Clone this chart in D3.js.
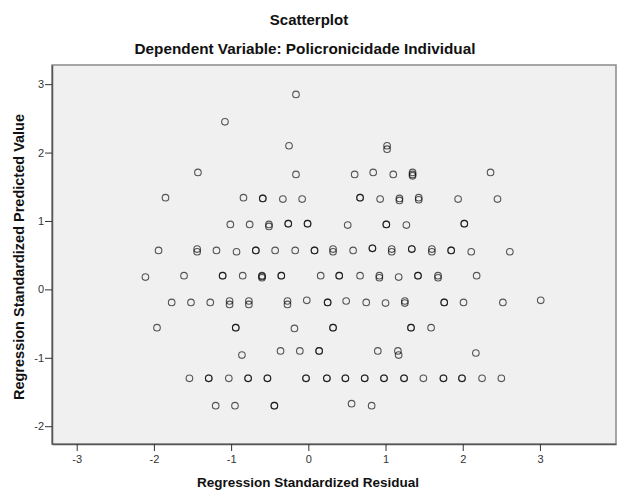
<!DOCTYPE html>
<html>
<head>
<meta charset="utf-8">
<script src="https://cdn.jsdelivr.net/npm/d3@7"></script>
<style>
    body { margin: 0; background: #fff; }
    text { font-family: "Liberation Sans", Arial, sans-serif; }
    .tick text { fill: #333; font-size: 11px; }
</style>
</head>
<body>
<div id="chart"></div>
<script>
// residuals (x) and standardized predicted values (y)
const residual = [
    -0.16, -1.08,
    -0.25, 1.02, 1.02,
    -1.43, -0.16, 0.60, 0.84, 1.10, 1.35, 1.35, 1.35, 2.36,
    -1.85, -0.84, -0.59, -0.59, -0.33, -0.08, 0.67, 0.67, 0.93, 1.18, 1.18, 1.43, 1.43, 1.94, 2.45,
    -1.01, -0.76, -0.51, -0.51, -0.26, -0.26, -0.01, -0.01, 0.51, 1.01, 1.01, 1.27, 2.02, 2.02,
    -1.94, -1.44, -1.44, -1.19, -0.93, -0.68, -0.68, -0.43, -0.17, 0.08, 0.08, 0.32, 0.32, 0.58,
    0.83, 0.83, 1.08, 1.08, 1.34, 1.34, 1.60, 1.60, 1.85, 1.85, 2.11, 2.61,
    -2.11, -1.61, -1.11, -1.11, -0.85, -0.60, -0.60, -0.60, -0.35, -0.35, 0.16, 0.40, 0.40, 0.67,
    0.92, 0.92, 1.17, 1.42, 1.42, 1.68, 1.68, 2.18,
    -1.77, -1.52, -1.27, -1.02, -1.02, -0.77, -0.77, -0.27, -0.27, -0.02, 0.25, 0.25, 0.49, 0.75,
    1.00, 1.25, 1.25, 1.76, 1.76, 2.01, 2.52, 3.01,
    -1.96, -0.94, -0.94, -0.18, 0.32, 0.32, 1.33, 1.33, 1.59,
    -0.86, -0.36, -0.11, 0.14, 0.14, 0.90, 1.16, 1.17, 2.17,
    -1.54, -1.29, -1.29, -1.03, -0.78, -0.78, -0.53, -0.53, -0.03, -0.03, 0.24, 0.24, 0.48, 0.48,
    0.73, 0.73, 0.98, 0.98, 1.24, 1.24, 1.49, 1.75, 1.75, 1.99, 1.99, 2.25, 2.50,
    -1.20, -0.95, -0.44, -0.44, 0.56, 0.82
];
const predicted = [
    2.85, 2.45,
    2.10, 2.10, 2.05,
    1.71, 1.68, 1.68, 1.71, 1.68, 1.71, 1.68, 1.66, 1.71,
    1.34, 1.34, 1.33, 1.33, 1.32, 1.32, 1.34, 1.34, 1.32, 1.33, 1.30, 1.34, 1.31, 1.32, 1.32,
    0.95, 0.95, 0.95, 0.92, 0.96, 0.96, 0.96, 0.96, 0.94, 0.95, 0.95, 0.94, 0.96, 0.96,
    0.57, 0.59, 0.55, 0.57, 0.55, 0.57, 0.57, 0.57, 0.57, 0.57, 0.57, 0.59, 0.55, 0.57,
    0.60, 0.60, 0.59, 0.55, 0.59, 0.59, 0.59, 0.55, 0.57, 0.57, 0.55, 0.55,
    0.18, 0.20, 0.20, 0.20, 0.20, 0.20, 0.17, 0.19, 0.20, 0.20, 0.20, 0.20, 0.20, 0.20,
    0.20, 0.17, 0.18, 0.20, 0.20, 0.20, 0.17, 0.20,
    -0.19, -0.19, -0.19, -0.17, -0.22, -0.17, -0.22, -0.17, -0.22, -0.16, -0.19, -0.19, -0.17, -0.19,
    -0.20, -0.17, -0.20, -0.19, -0.19, -0.19, -0.19, -0.16,
    -0.56, -0.56, -0.56, -0.57, -0.56, -0.56, -0.56, -0.56, -0.56,
    -0.96, -0.90, -0.90, -0.90, -0.90, -0.90, -0.90, -0.96, -0.93,
    -1.30, -1.30, -1.30, -1.30, -1.30, -1.30, -1.30, -1.30, -1.30, -1.30, -1.30, -1.30, -1.30, -1.30,
    -1.30, -1.30, -1.30, -1.30, -1.30, -1.30, -1.30, -1.30, -1.30, -1.30, -1.30, -1.30, -1.30,
    -1.70, -1.70, -1.70, -1.70, -1.67, -1.70
];
const xTicks = [-3, -2, -1, 0, 1, 2, 3];
const yTicks = [-2, -1, 0, 1, 2, 3];

const W = 617, H = 491;
const margin = {top: 65, right: 1, bottom: 47, left: 52};
const width = W - margin.left - margin.right;
const height = H - margin.top - margin.bottom;

const svg = d3.select('#chart')
    .append('svg')
        .attr('width', W)
        .attr('height', H);

// titles
svg.append('text')
    .attr('x', 309).attr('y', 25)
    .attr('text-anchor', 'middle')
    .style('font-size', '15px').style('font-weight', 'bold').style('fill', '#111')
    .text('Scatterplot');
svg.append('text')
    .attr('x', 305).attr('y', 54)
    .attr('text-anchor', 'middle')
    .style('font-size', '15.3px').style('font-weight', 'bold').style('fill', '#111')
    .text('Dependent Variable: Policronicidade Individual');

const g = svg.append('g')
    .attr('transform', 'translate(' + margin.left + ',' + margin.top + ')');

const x = d3.scaleLinear().domain([-3.32, 3.985]).range([0, width]);
const y = d3.scaleLinear().domain([-2.26, 3.28]).range([height, 0]);

// plot background
g.append('rect')
    .attr('width', width).attr('height', height)
    .style('fill', '#f0f0f0')
    .style('stroke', '#8a8a8a')
    .style('stroke-width', 1.5);

// axes
const fmt = d => String(d);
const xAxis = g.append('g')
    .attr('transform', 'translate(0,' + height + ')')
    .call(d3.axisBottom(x).tickValues(xTicks).tickFormat(fmt).tickSize(7).tickPadding(4).tickSizeOuter(0));
const yAxis = g.append('g')
    .call(d3.axisLeft(y).tickValues(yTicks).tickFormat(fmt).tickSize(7).tickPadding(1).tickSizeOuter(0));
[xAxis, yAxis].forEach(a => {
    a.select('.domain').style('stroke', '#555').style('stroke-width', 1.5);
    a.selectAll('.tick line').style('stroke', '#333');
});

// points
g.selectAll('.pt')
    .data(residual.map((r, i) => [r, predicted[i]]))
    .enter().append('circle')
    .attr('class', 'pt')
    .attr('cx', d => x(d[0]))
    .attr('cy', d => y(d[1]))
    .attr('r', 3.3)
    .style('fill', 'none')
    .style('stroke', '#000')
    .style('stroke-opacity', 0.65)
    .style('stroke-width', 1.1);

// axis titles
svg.append('text')
    .attr('x', 308).attr('y', 487)
    .attr('text-anchor', 'middle')
    .style('font-size', '13.5px').style('font-weight', 'bold').style('fill', '#111')
    .text('Regression Standardized Residual');
svg.append('text')
    .attr('transform', 'translate(24,257) rotate(-90)')
    .attr('text-anchor', 'middle')
    .style('font-size', '14.5px').style('font-weight', 'bold').style('fill', '#111')
    .text('Regression Standardized Predicted Value');
</script>
</body>
</html>
